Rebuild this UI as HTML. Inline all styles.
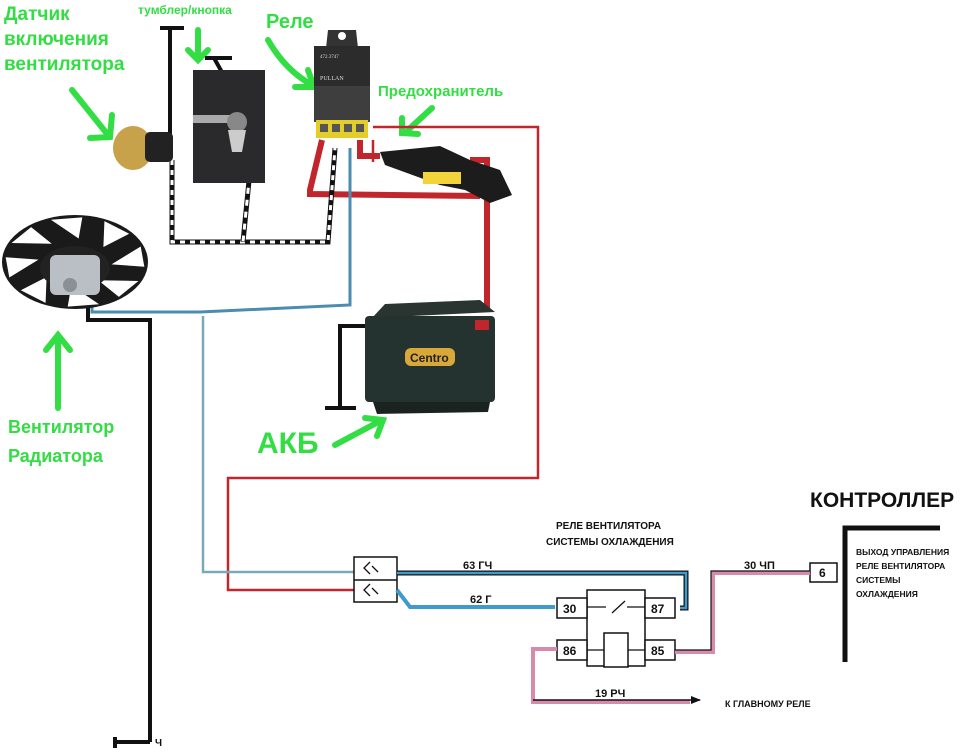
<!DOCTYPE html>
<html><head><meta charset="utf-8"><style>
html,body{margin:0;padding:0;background:#fff;width:960px;height:755px;overflow:hidden}
svg{display:block}
.g{fill:#33dd44;font-family:"Liberation Sans","DejaVu Sans",sans-serif;font-weight:bold}
.k{font-family:"Liberation Sans","DejaVu Sans",sans-serif;font-weight:bold;fill:#111}
</style></head><body>
<svg width="960" height="755" viewBox="0 0 960 755" xmlns="http://www.w3.org/2000/svg">
<defs><marker id="ar" markerWidth="10" markerHeight="8" refX="9" refY="4" orient="auto" markerUnits="userSpaceOnUse"><path d="M0,0 L10,4 L0,8 Z" fill="#111"/></marker></defs>
<text class="g" x="4" y="20" font-size="19">Датчик</text>
<text class="g" x="4" y="45" font-size="19">включения</text>
<text class="g" x="4" y="70" font-size="19">вентилятора</text>
<text class="g" x="138" y="14" font-size="12">тумблер/кнопка</text>
<text class="g" x="266" y="28" font-size="20">Реле</text>
<text class="g" x="378" y="96" font-size="15">Предохранитель</text>
<text class="g" x="8" y="433" font-size="18">Вентилятор</text>
<text class="g" x="8" y="462" font-size="18">Радиатора</text>
<text class="g" x="257" y="453" font-size="30">АКБ</text>
<g stroke="#33dd44" stroke-width="6" fill="none" stroke-linecap="round">
<path d="M72,90 L108,135"/><path d="M90,138 L110,137 L112,115"/>
<path d="M198,30 L198,58"/><path d="M188,50 L198,60 L208,50"/>
<path d="M268,40 Q285,70 312,85"/><path d="M295,87 L314,87 L308,70"/>
<path d="M432,108 L408,130"/><path d="M402,118 L402,133 L418,134"/>
<path d="M58,408 L58,340"/><path d="M46,350 L58,335 L70,350"/>
<path d="M335,445 L382,420"/><path d="M365,418 L383,420 L377,436"/>
</g>
<g fill="none" stroke="#c0262c" stroke-width="6">
<path d="M322,140 L310,190 L310,194 L480,196"/>
<path d="M360,140 L360,156 L380,156"/>
<path d="M470,160 L487,160 L487,312"/>
</g>
<g fill="none" stroke="#c0262c" stroke-width="2.5">
<path d="M373,140 L373,162 M373,127 L538,127 L538,478 L228,478 L228,590 L355,590"/>
</g>
<g fill="none">
<path d="M172,160 L172,242 L328,242 L335,148" stroke="#111" stroke-width="5"/>
<path d="M172,160 L172,242 L328,242 L335,148" stroke="#fff" stroke-width="3" stroke-dasharray="5 5"/>
<path d="M253,140 L243,242" stroke="#111" stroke-width="5"/>
<path d="M253,140 L243,242" stroke="#fff" stroke-width="3" stroke-dasharray="6 6"/>
</g>
<g fill="none" stroke="#4b8cb0" stroke-width="3">
<path d="M350,148 L350,305 L200,312 L92,312 L92,298"/>
</g>
<path d="M203,316 L203,572 L355,572" fill="none" stroke="#7aa9bc" stroke-width="2.5"/>
<g fill="none" stroke="#111" stroke-width="4">
<path d="M170,28 L170,150 M160,28 L184,28"/>
<path d="M205,58 L232,58 M214,58 L260,140"/>
<path d="M88,300 L88,320 L150,320 L150,742 M115,742 L150,742 M115,737 L115,748"/>
<path d="M372,326 L340,326 L340,408 M325,408 L356,408"/>
</g>
<text x="155" y="746" font-size="10" class="k">Ч</text>
<rect x="193" y="70" width="72" height="113" fill="#2a2a2c"/>
<rect x="193" y="115" width="50" height="8" fill="#aaa"/>
<circle cx="237" cy="122" r="10" fill="#888"/>
<path d="M228,130 l18,0 l-4,22 l-10,0z" fill="#ccc"/>
<ellipse cx="133" cy="148" rx="20" ry="22" fill="#c8a24a"/>
<rect x="145" y="132" width="28" height="30" rx="5" fill="#222"/>
<path d="M328,30 L356,30 L358,48 L326,48 Z" fill="#333"/>
<circle cx="342" cy="36" r="4" fill="#fff"/>
<rect x="314" y="46" width="56" height="40" fill="#2c2c2c"/>
<rect x="314" y="86" width="56" height="36" fill="#3e3e3e"/>
<text x="320" y="58" font-size="5" fill="#ddd">472.3747</text>
<text x="320" y="80" font-size="6" fill="#ddd">PULLAN</text>
<rect x="316" y="120" width="52" height="18" fill="#e2cd2a"/>
<g fill="#555"><rect x="320" y="124" width="8" height="8"/><rect x="332" y="124" width="8" height="8"/><rect x="344" y="124" width="8" height="8"/><rect x="356" y="124" width="8" height="8"/></g>
<path d="M380,152 L440,146 L470,160 L500,170 L512,195 L490,203 L465,190 L440,185 L385,165 Z" fill="#1c1c1c"/>
<rect x="423" y="172" width="38" height="12" fill="#f2d43a"/>
<!-- fan -->
<ellipse cx="75" cy="262" rx="73" ry="47" fill="#1a1a1a"/>
<g transform="translate(75,262) scale(73,47)" fill="#fff">
<g id="gap"><path d="M0.5,0.05 L0.9,-0.33 L0.95,0.1 Z"/></g>
<use href="#gap" transform="rotate(45)"/><use href="#gap" transform="rotate(90)"/><use href="#gap" transform="rotate(135)"/>
<use href="#gap" transform="rotate(180)"/><use href="#gap" transform="rotate(225)"/><use href="#gap" transform="rotate(270)"/><use href="#gap" transform="rotate(315)"/>
</g>
<ellipse cx="75" cy="268" rx="35" ry="22" fill="#222"/>
<rect x="50" y="255" width="50" height="40" rx="6" fill="#b9bfc4"/>
<circle cx="70" cy="285" r="7" fill="#8a9096"/>
<path d="M372,318 L385,304 L480,300 L495,312 L372,318Z" fill="#2a3532"/>
<rect x="365" y="316" width="130" height="86" rx="4" fill="#243330"/>
<path d="M373,402 L490,402 L488,412 L377,414Z" fill="#1a2320"/>
<rect x="405" y="348" width="50" height="18" rx="6" fill="#d8a838"/>
<text x="410" y="362" font-size="12" fill="#222" font-weight="bold" font-family="Liberation Sans,sans-serif">Centro</text>
<rect x="475" y="320" width="14" height="10" fill="#c0262c"/>
<text x="556" y="529" font-size="10" class="k" font-weight="normal">РЕЛЕ ВЕНТИЛЯТОРА</text>
<text x="546" y="545" font-size="10" class="k" font-weight="normal">СИСТЕМЫ ОХЛАЖДЕНИЯ</text>
<text x="810" y="507" font-size="21" class="k" font-weight="normal">КОНТРОЛЛЕР</text>
<rect x="354" y="557" width="43" height="45" fill="#fff" stroke="#111" stroke-width="1.5"/>
<line x1="354" y1="580" x2="397" y2="580" stroke="#111" stroke-width="1.5"/>
<path d="M370,562 l-6,6 l6,6 M370,584 l-6,6 l6,6 M372,566 l6,6 M372,588 l6,6" stroke="#111" fill="none" stroke-width="1.3"/>
<path d="M397,573 L686,573 L686,608 L680,608" fill="none" stroke="#111" stroke-width="5"/>
<path d="M397,573 L686,573 L686,608 L680,608" fill="none" stroke="#3f9bcc" stroke-width="2.5"/>
<path d="M397,590 L410,607 L555,607" fill="none" stroke="#3f9bcc" stroke-width="4"/>
<text x="463" y="569" font-size="11" class="k">63 ГЧ</text>
<text x="470" y="603" font-size="11" class="k">62 Г</text>
<rect x="587" y="590" width="58" height="76" fill="#fff" stroke="#111" stroke-width="1.5"/>
<path d="M587,607 L606,607 M612,613 L625,601 M627,607 L645,607 M587,650 L604,650 M628,650 L645,650" stroke="#111" fill="none" stroke-width="1.3"/>
<rect x="604" y="633" width="24" height="34" fill="#fff" stroke="#111" stroke-width="1.5"/>
<g fill="#fff" stroke="#111" stroke-width="1.5">
<rect x="557" y="598" width="30" height="20"/><rect x="645" y="598" width="30" height="20"/>
<rect x="557" y="640" width="30" height="20"/><rect x="645" y="640" width="30" height="20"/>
<rect x="810" y="563" width="27" height="19"/></g>
<g font-size="12" class="k"><text x="563" y="613">30</text><text x="651" y="613">87</text><text x="563" y="655">86</text><text x="651" y="655">85</text><text x="819" y="577">6</text></g>
<path d="M675,652 L713,652 L713,573 L810,573" fill="none" stroke="#d88aac" stroke-width="4"/>
<path d="M675,650 L711,650 L711,571 L810,571" fill="none" stroke="#111" stroke-width="1.2"/>
<path d="M557,649 L533,649 L533,702 L690,702" fill="none" stroke="#d88aac" stroke-width="4"/>
<path d="M533,700 L700,700" fill="none" stroke="#111" stroke-width="1.5" marker-end="url(#ar)"/>
<text x="744" y="569" font-size="11" class="k">30 ЧП</text>
<text x="595" y="697" font-size="11" class="k">19 РЧ</text>
<text x="725" y="707" font-size="9" class="k" font-weight="normal">К ГЛАВНОМУ РЕЛЕ</text>
<path d="M845,662 L845,528 L940,528" fill="none" stroke="#111" stroke-width="5"/>
<g font-size="8.5" class="k" font-weight="normal"><text x="856" y="555">ВЫХОД УПРАВЛЕНИЯ</text><text x="856" y="569">РЕЛЕ ВЕНТИЛЯТОРА</text><text x="856" y="583">СИСТЕМЫ</text><text x="856" y="597">ОХЛАЖДЕНИЯ</text></g>
</svg>
</body></html>
